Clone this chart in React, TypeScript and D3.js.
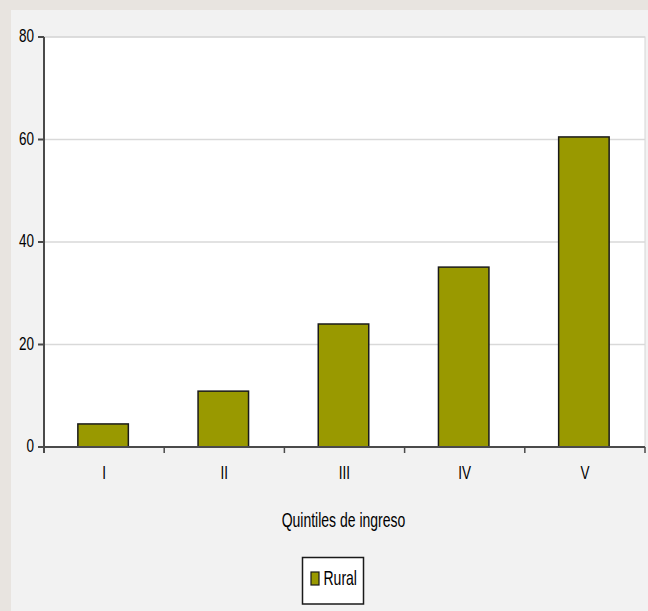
import React from "react";
import * as d3 from "d3";

const categories = ["I", "II", "III", "IV", "V"];
const ruralValues = [4.5, 10.9, 24.0, 35.1, 60.5];
const yTicks = [0, 20, 40, 60, 80];
const seriesName = "Rural";
const xAxisTitle = "Quintiles de ingreso";

const W = 648;
const H = 611;
const FONT = "'Liberation Sans', Arial, sans-serif";
const SY = 1.4;

function T({ x, y, anchor, size, children }: { x: number; y: number; anchor: string; size: number; children: React.ReactNode }) {
  return (
    <text
      transform={`translate(${x},${y}) scale(1,${SY})`}
      textAnchor={anchor}
      fontFamily={FONT}
      fontSize={size}
      fill="#000"
    >
      {children}
    </text>
  );
}

export default function App() {
  const left = 44, right = 645, top = 37, bottom = 447;
  const x = d3.scaleBand<string>().domain(categories).range([left, right]).paddingInner(0.58).paddingOuter(0.29);
  const y = d3.scaleLinear().domain([0, 80]).range([bottom, top]);
  const boundaries = d3.range(categories.length + 1).map((i) => left + i * ((right - left) / categories.length));

  return (
    <svg width={W} height={H} style={{ position: "absolute", left: 0, top: 0 }}>
      <rect x={0} y={0} width={W} height={H} fill="#e8e4e0" />
      <rect x={11} y={10} width={W - 11} height={H - 10} fill="#f2f2f2" />
      <rect x={left} y={top} width={right - left} height={bottom - top} fill="#ffffff" stroke="#d4d4d4" strokeWidth={1} />
      {yTicks.filter((t) => t > 0).map((t) => (
        <line key={t} x1={left} x2={right} y1={y(t)} y2={y(t)} stroke="#d9d9d9" strokeWidth={1.5} />
      ))}
      {categories.map((c, i) => (
        <rect
          key={c}
          x={x(c)! - 1}
          y={y(ruralValues[i])}
          width={x.bandwidth()}
          height={y(0) - y(ruralValues[i])}
          fill="#999900"
          stroke="#1a1a1a"
          strokeWidth={1.5}
        />
      ))}
      <line x1={left} x2={left} y1={top} y2={bottom + 6} stroke="#4a4a4a" strokeWidth={2} />
      {yTicks.map((t) => (
        <g key={t}>
          <line x1={left - 6} x2={left} y1={y(t)} y2={y(t)} stroke="#4a4a4a" strokeWidth={2} />
          <T x={34} y={y(t) + 5} anchor="end" size={13.5}>{t}</T>
        </g>
      ))}
      <line x1={left - 6} x2={right} y1={bottom} y2={bottom} stroke="#4a4a4a" strokeWidth={2} />
      {boundaries.slice(1).map((b, i) => (
        <line key={i} x1={b} x2={b} y1={bottom} y2={bottom + 6} stroke="#4a4a4a" strokeWidth={1.5} />
      ))}
      {categories.map((c) => (
        <T key={c} x={x(c)! + x.bandwidth() / 2} y={479} anchor="middle" size={13.5}>{c}</T>
      ))}
      <T x={(left + right) / 2 - 1} y={527} anchor="middle" size={14}>{xAxisTitle}</T>
      <rect x={302.5} y={557.5} width={61} height={46.5} fill="#ffffff" stroke="#1a1a1a" strokeWidth={1.5} />
      <rect x={311} y={572} width={8} height={13} fill="#999900" stroke="#1a1a1a" strokeWidth={1.2} />
      <T x={323.5} y={585} anchor="start" size={14}>{seriesName}</T>
    </svg>
  );
}
